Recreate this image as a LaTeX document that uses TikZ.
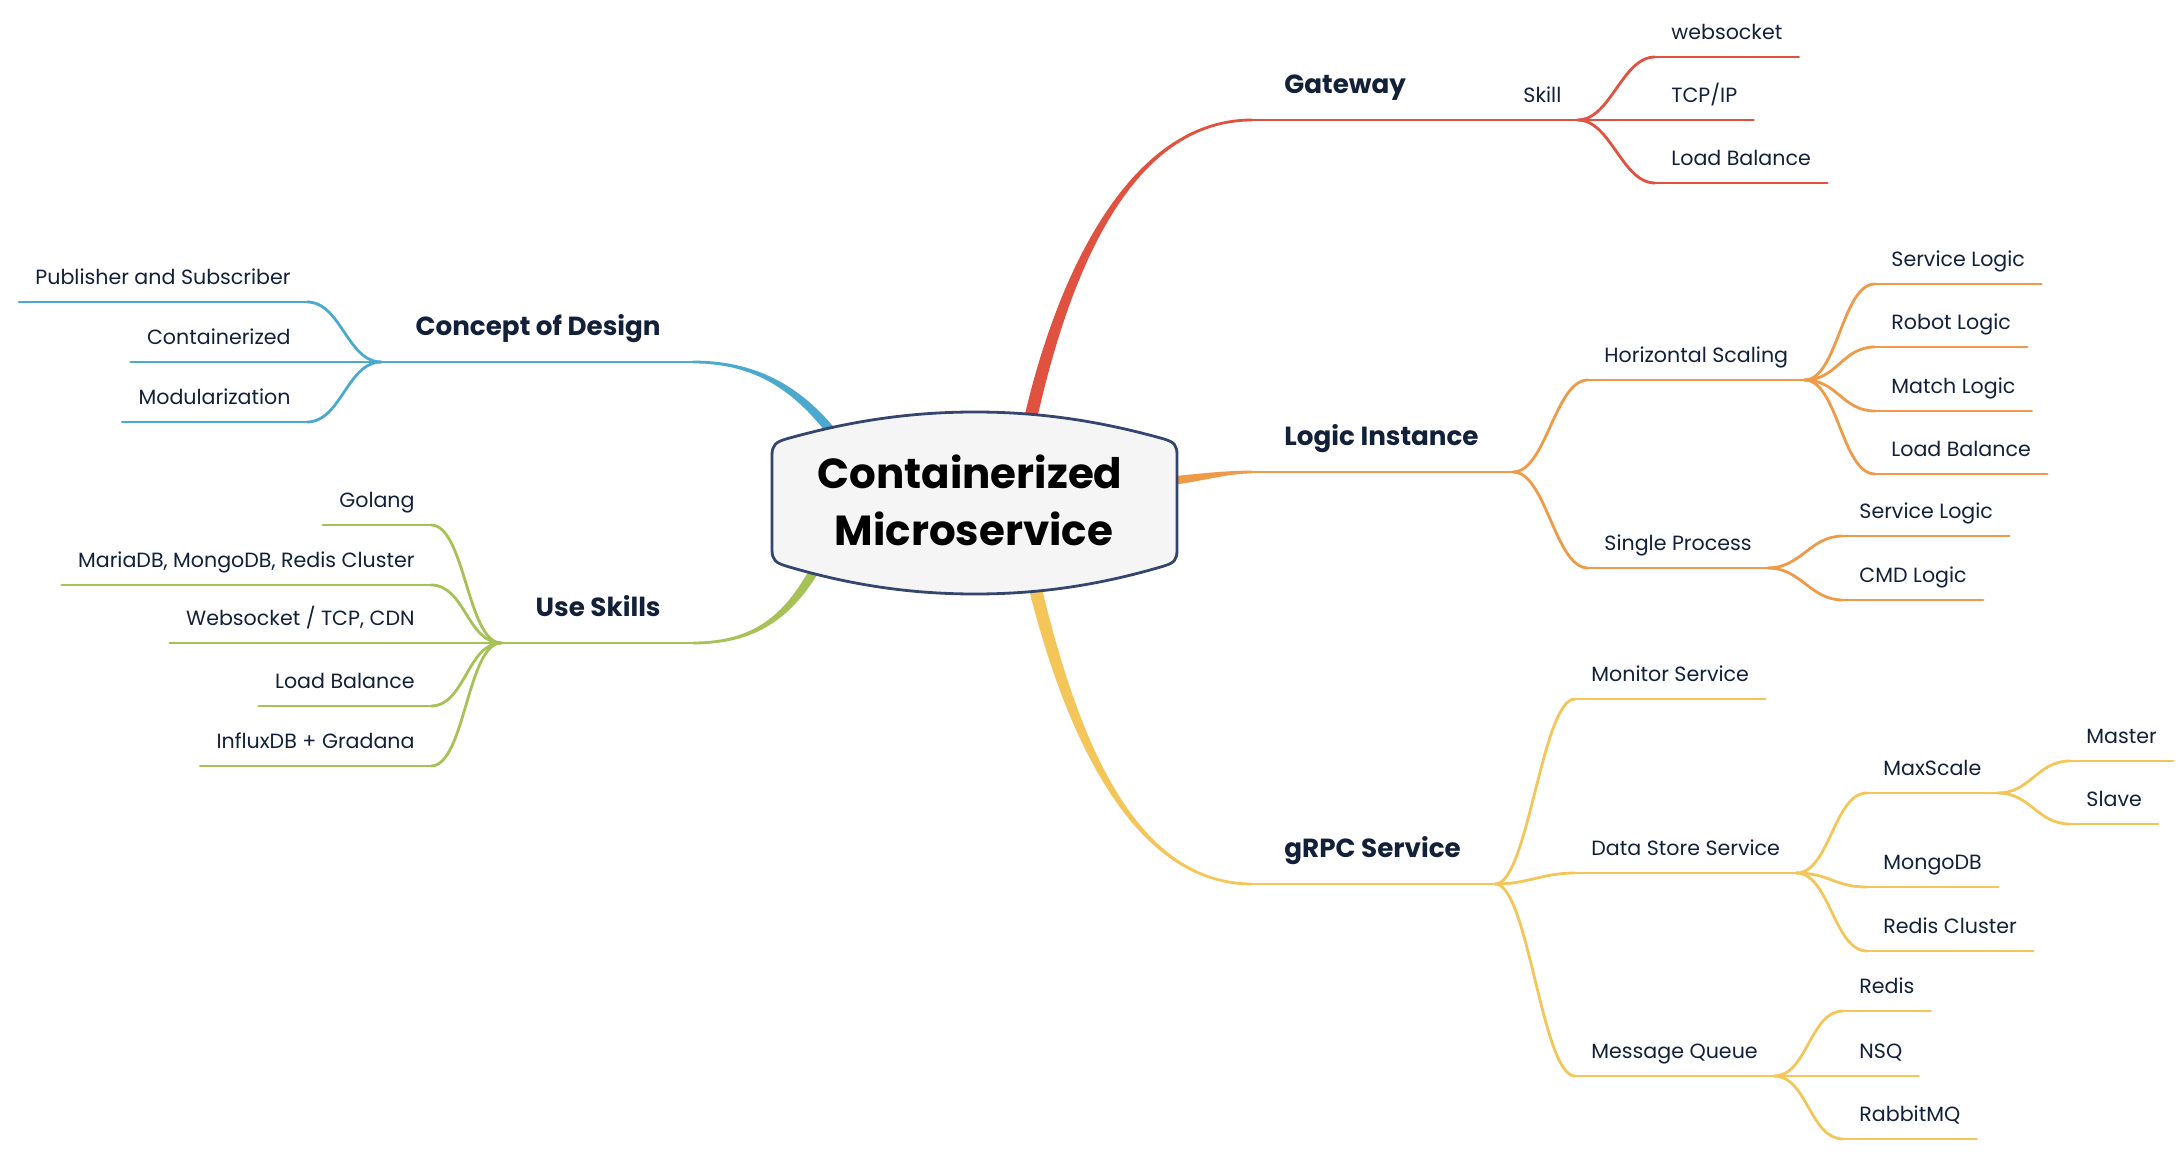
\documentclass[tikz,border=0pt]{standalone}
\usepackage{fontspec}
\setmainfont{Poppins}
\usetikzlibrary{calc}
\definecolor{cRed}{HTML}{E0523F}
\definecolor{cOrange}{HTML}{EE9A48}
\definecolor{cYellow}{HTML}{F4C65A}
\definecolor{cBlue}{HTML}{4BA9CF}
\definecolor{cGreen}{HTML}{A6C155}
\definecolor{ink}{HTML}{12203A}
\definecolor{boxfill}{HTML}{F5F5F5}
\definecolor{boxline}{HTML}{34456F}
\newcommand\leaffont{\fontsize{10.3pt}{13pt}\selectfont}
\newcommand\topicfont{\fontsize{13.1pt}{16pt}\selectfont\bfseries}
\newcommand\rootfont{\fontsize{21pt}{26pt}\selectfont\bfseries}
\newcommand{\tapercurve}[7]{%
  \fill[#1] ($(#2)!#6!90:(#3)$) .. controls ($(#3)!#6!-90:(#2)$) and ($(#4)!#7!90:(#5)$) .. ($(#5)!#7!-90:(#4)$)
   -- ($(#5)!#7!90:(#4)$) .. controls ($(#4)!#7!-90:(#5)$) and ($(#3)!#6!90:(#2)$) .. ($(#2)!#6!-90:(#3)$) -- cycle;}
\tikzset{
  leafR/.style={anchor=south west, inner xsep=8pt, inner ysep=8.5pt, text height=8pt, text depth=0pt, font=\leaffont, text=ink},
  leafL/.style={leafR, anchor=south east},
  topicR/.style={anchor=south west, inner xsep=17pt, inner ysep=13pt, text height=10pt, text depth=0pt, font=\topicfont, text=ink},
  topicL/.style={topicR, anchor=south east},
  rootnode/.style={anchor=base, inner sep=0pt, font=\rootfont, text=black},
  thin/.style={line width=1.4pt, line cap=round},
}
\newcommand{\ulR}[2]{\draw[thin,#1] (#2.south west) -- (#2.south east);}
\newcommand{\cR}[3]{\draw[thin,#1] (#2.south east) .. controls +(33,0) and +(-33,0) .. (#3.south west);}
\newcommand{\cL}[3]{\draw[thin,#1] (#2.south west) .. controls +(-34,0) and +(34,0) .. (#3.south east);}
\begin{document}
\begin{tikzpicture}[x=0.5pt,y=-0.5pt]
\useasboundingbox (0,0) rectangle (2182,1154);
% ---------- main thick branches ----------
\coordinate (r0) at (1028,430); \coordinate (r1) at (1056,300); \coordinate (r2) at (1120,120); \coordinate (r3) at (1252,120);
\tapercurve{cRed}{r0}{r1}{r2}{r3}{3.2pt}{0.7pt}
\coordinate (o0) at (1160,482); \coordinate (o1) at (1200,478); \coordinate (o2) at (1225,472); \coordinate (o3) at (1252,472);
\tapercurve{cOrange}{o0}{o1}{o2}{o3}{2.2pt}{0.7pt}
\coordinate (y0) at (1032,575); \coordinate (y1) at (1062,700); \coordinate (y2) at (1120,884); \coordinate (y3) at (1252,884);
\tapercurve{cYellow}{y0}{y1}{y2}{y3}{3.2pt}{0.7pt}
\coordinate (b0) at (845,450); \coordinate (b1) at (805,392); \coordinate (b2) at (760,362); \coordinate (b3) at (693,362);
\tapercurve{cBlue}{b0}{b1}{b2}{b3}{2.4pt}{0.7pt}
\coordinate (g0) at (825,550); \coordinate (g1) at (795,612); \coordinate (g2) at (760,643); \coordinate (g3) at (693,643);
\tapercurve{cGreen}{g0}{g1}{g2}{g3}{2.4pt}{0.7pt}
% ---------- root ----------
\filldraw[fill=boxfill, draw=boxline, line width=1.4pt]
  (772,455) -- (772,550) .. controls (772,560) and (776,563) .. (786,566)
  .. controls (850,585) and (910,594) .. (975,594)
  .. controls (1040,594) and (1100,585) .. (1164,566)
  .. controls (1174,563) and (1177,560) .. (1177,550)
  -- (1177,455) .. controls (1177,445) and (1174,442) .. (1164,439)
  .. controls (1100,421) and (1040,412) .. (975,412)
  .. controls (910,412) and (850,421) .. (786,439)
  .. controls (776,442) and (772,445) .. (772,455) -- cycle;
\node[rootnode] (rootA) at (970,488) {Containerized};
\node[rootnode] (rootB) at (974,545) {Microservice};
% ---------- topics ----------
\node[topicR] (gw) at (1250,120) {Gateway};
\node[topicR] (li) at (1250,472) {Logic Instance};
\node[topicR] (gr) at (1250,884) {gRPC Service};
\node[topicL] (cd) at (695,362) {Concept of Design};
\node[topicL] (us) at (695,643) {Use Skills};
\ulR{cRed}{gw} \ulR{cOrange}{li} \ulR{cYellow}{gr} \ulR{cBlue}{cd} \ulR{cGreen}{us}
% ---------- Gateway ----------
\node[leafR] (sk) at (1507,120) {Skill};
\node[leafR] (ws) at (1655,57) {websocket};
\node[leafR] (tcp) at (1655,120) {TCP/IP};
\node[leafR] (glb) at (1655,183) {Load Balance};
\foreach \n in {sk,ws,tcp,glb} {\ulR{cRed}{\n}}
\cR{cRed}{gw}{sk} \cR{cRed}{sk}{ws} \cR{cRed}{sk}{tcp} \cR{cRed}{sk}{glb}
% ---------- Logic Instance ----------
\node[leafR] (hs) at (1588,380) {Horizontal Scaling};
\node[leafR] (sp) at (1588,568) {Single Process};
\node[leafR] (hs1) at (1875,284) {Service Logic};
\node[leafR] (hs2) at (1875,347) {Robot Logic};
\node[leafR] (hs3) at (1875,411) {Match Logic};
\node[leafR] (hs4) at (1875,474) {Load Balance};
\node[leafR] (sp1) at (1843,536) {Service Logic};
\node[leafR] (sp2) at (1843,600) {CMD Logic};
\foreach \n in {hs,sp,hs1,hs2,hs3,hs4,sp1,sp2} {\ulR{cOrange}{\n}}
\cR{cOrange}{li}{hs} \cR{cOrange}{li}{sp}
\cR{cOrange}{hs}{hs1} \cR{cOrange}{hs}{hs2} \cR{cOrange}{hs}{hs3} \cR{cOrange}{hs}{hs4}
\cR{cOrange}{sp}{sp1} \cR{cOrange}{sp}{sp2}
% ---------- gRPC ----------
\node[leafR] (ms) at (1575,699) {Monitor Service};
\node[leafR] (ds) at (1575,873) {Data Store Service};
\node[leafR] (mq) at (1575,1076) {Message Queue};
\node[leafR] (mx) at (1867,793) {MaxScale};
\node[leafR] (mg) at (1867,887) {MongoDB};
\node[leafR] (rc) at (1867,951) {Redis Cluster};
\node[leafR] (ma) at (2070,761) {Master};
\node[leafR] (sl) at (2070,824) {Slave};
\node[leafR] (rd) at (1843,1011) {Redis};
\node[leafR] (nsq) at (1843,1076) {NSQ};
\node[leafR] (rmq) at (1843,1139) {RabbitMQ};
\foreach \n in {ms,ds,mq,mx,mg,rc,ma,sl,rd,nsq,rmq} {\ulR{cYellow}{\n}}
\cR{cYellow}{gr}{ms} \cR{cYellow}{gr}{ds} \cR{cYellow}{gr}{mq}
\cR{cYellow}{ds}{mx} \cR{cYellow}{ds}{mg} \cR{cYellow}{ds}{rc}
\cR{cYellow}{mx}{ma} \cR{cYellow}{mx}{sl}
\cR{cYellow}{mq}{rd} \cR{cYellow}{mq}{nsq} \cR{cYellow}{mq}{rmq}
% ---------- Concept of Design ----------
\node[leafL] (ps) at (307,302) {Publisher and Subscriber};
\node[leafL] (ct) at (307,362) {Containerized};
\node[leafL] (md) at (307,422) {Modularization};
\foreach \n in {ps,ct,md} {\ulR{cBlue}{\n}}
\cL{cBlue}{cd}{ps} \cL{cBlue}{cd}{ct} \cL{cBlue}{cd}{md}
% ---------- Use Skills ----------
\node[leafL] (go) at (431,525) {Golang};
\node[leafL] (db) at (431,585) {MariaDB, MongoDB, Redis Cluster};
\node[leafL] (wt) at (431,643) {Websocket / TCP, CDN};
\node[leafL] (ulb) at (431,706) {Load Balance};
\node[leafL] (ifx) at (431,766) {InfluxDB + Gradana};
\foreach \n in {go,db,wt,ulb,ifx} {\ulR{cGreen}{\n}}
\cL{cGreen}{us}{go} \cL{cGreen}{us}{db} \cL{cGreen}{us}{wt} \cL{cGreen}{us}{ulb} \cL{cGreen}{us}{ifx}
\end{tikzpicture}
\end{document}
